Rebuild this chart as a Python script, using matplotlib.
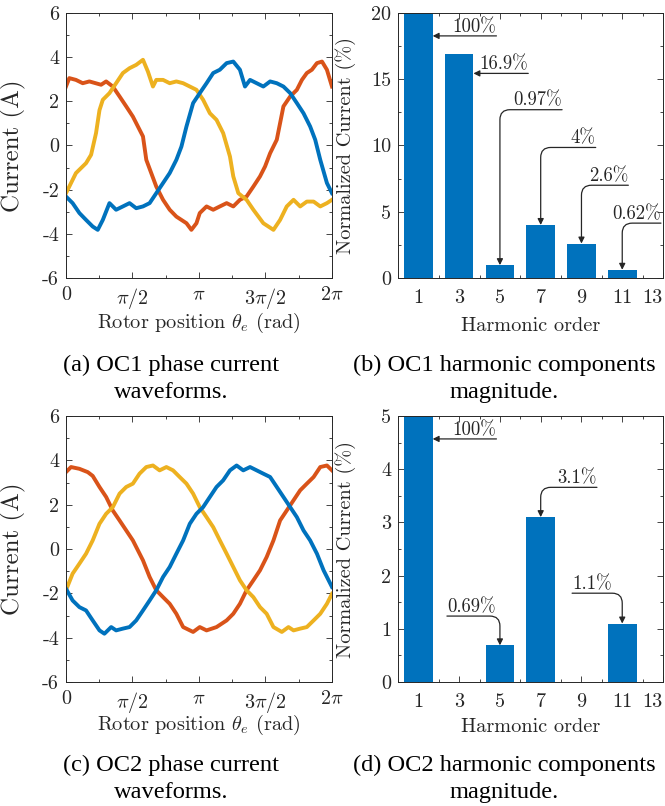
import numpy as np
import matplotlib
matplotlib.use('Agg')
import matplotlib.pyplot as plt
from matplotlib.ticker import MultipleLocator

plt.rcParams['font.family'] = 'cmr10'
plt.rcParams['mathtext.fontset'] = 'cm'
plt.rcParams['axes.formatter.use_mathtext'] = True

# ---- OC1 phase currents (x in units of pi) ----
oc1_red_x = [0.0, 0.025, 0.075, 0.126, 0.176, 0.264, 0.302, 0.352, 0.403, 0.453, 0.503, 0.541, 0.579, 0.604,
             0.679, 0.73, 0.78, 0.83, 0.906, 0.943, 0.981, 1.006, 1.057, 1.107, 1.157, 1.208, 1.258, 1.308,
             1.358, 1.409, 1.459, 1.497, 1.535, 1.585, 1.635, 1.686, 1.736, 1.774, 1.811, 1.849, 1.887,
             1.925, 1.962, 2.0]
oc1_red_y = [2.67, 3.05, 2.97, 2.82, 2.9, 2.75, 2.9, 2.67, 2.22, 1.77, 1.31, 0.86, 0.41, -0.65,
             -1.86, -2.46, -2.91, -3.22, -3.52, -3.82, -3.52, -3.06, -2.76, -2.91, -2.76, -2.61, -2.76, -2.46,
             -2.31, -1.86, -1.4, -0.95, -0.35, 0.26, 1.77, 2.22, 2.52, 2.97, 3.28, 3.43, 3.73,
             3.8, 3.43, 2.67]

oc1_yel_x = [0.0, 0.025, 0.075, 0.151, 0.189, 0.226, 0.252, 0.277, 0.327, 0.377, 0.428, 0.478, 0.528, 0.579,
             0.616, 0.654, 0.679, 0.73, 0.78, 0.83, 0.881, 0.931, 0.981, 1.031, 1.082, 1.132, 1.182, 1.233,
             1.258, 1.296, 1.358, 1.409, 1.484, 1.560, 1.610, 1.660, 1.711, 1.761, 1.811, 1.862, 1.912,
             1.962, 2.0]
oc1_yel_y = [-2.16, -1.86, -1.25, -0.8, -0.42, 0.56, 1.6, 2.07, 2.37, 2.82, 3.28, 3.5, 3.65, 3.88,
             3.35, 2.67, 2.97, 2.97, 2.82, 2.9, 2.82, 2.67, 2.52, 2.07, 1.46, 1.16, 0.56, -0.5,
             -1.4, -2.16, -2.46, -2.91, -3.52, -3.82, -3.37, -2.76, -2.46, -2.76, -2.54, -2.54, -2.76,
             -2.61, -2.46]

oc1_blu_x = [0.0, 0.05, 0.101, 0.151, 0.201, 0.239, 0.277, 0.327, 0.377, 0.428, 0.478, 0.528, 0.579, 0.629,
             0.679, 0.73, 0.78, 0.83, 0.868, 0.906, 0.956, 1.006, 1.057, 1.107, 1.157, 1.208, 1.258, 1.308,
             1.346, 1.384, 1.434, 1.484, 1.535, 1.585, 1.635, 1.686, 1.736, 1.786, 1.836, 1.874, 1.912,
             1.962, 2.0]
oc1_blu_y = [-2.31, -2.61, -3.06, -3.37, -3.67, -3.82, -3.37, -2.61, -2.91, -2.76, -2.61, -2.84, -2.76, -2.61,
             -2.16, -1.7, -1.25, -0.65, -0.05, 0.86, 1.92, 2.37, 2.82, 3.28, 3.43, 3.73, 3.8, 3.43,
             2.67, 2.97, 2.82, 2.67, 2.9, 2.82, 2.67, 2.37, 1.92, 1.46, 0.86, 0.26, -0.65,
             -1.7, -2.16]

# ---- OC2 phase currents ----
oc2_red_x = [0.0, 0.038, 0.101, 0.164, 0.201, 0.252, 0.302, 0.352, 0.403, 0.453, 0.503, 0.541, 0.579, 0.629,
             0.679, 0.73, 0.78, 0.83, 0.881, 0.956, 1.006, 1.057, 1.132, 1.208, 1.258, 1.308, 1.358, 1.409,
             1.459, 1.509, 1.560, 1.610, 1.660, 1.711, 1.761, 1.811, 1.862, 1.912, 1.962, 2.0]
oc2_red_y = [3.47, 3.7, 3.62, 3.47, 3.3, 2.8, 2.35, 1.74, 1.29, 0.84, 0.39, -0.06, -0.51, -1.26,
             -1.86, -2.17, -2.47, -2.92, -3.52, -3.74, -3.52, -3.67, -3.52, -3.22, -2.92, -2.47, -1.86, -1.41,
             -0.96, -0.36, 0.39, 1.29, 1.74, 2.2, 2.65, 2.95, 3.25, 3.7, 3.77, 3.55]

oc2_yel_x = [0.0, 0.05, 0.101, 0.151, 0.201, 0.252, 0.302, 0.352, 0.403, 0.453, 0.503, 0.553, 0.604, 0.654,
             0.704, 0.755, 0.805, 0.855, 0.906, 0.956, 1.006, 1.057, 1.107, 1.157, 1.208, 1.258, 1.308, 1.358,
             1.409, 1.459, 1.509, 1.560, 1.623, 1.673, 1.711, 1.761, 1.811, 1.862, 1.912, 1.962, 2.0]
oc2_yel_y = [-1.86, -1.11, -0.66, -0.21, 0.39, 1.14, 1.59, 1.89, 2.5, 2.8, 2.95, 3.4, 3.7, 3.77,
             3.55, 3.7, 3.55, 3.25, 2.95, 2.5, 1.89, 1.44, 0.99, 0.39, -0.21, -0.81, -1.41, -1.86,
             -2.17, -2.62, -2.92, -3.52, -3.74, -3.52, -3.67, -3.59, -3.52, -3.22, -2.92, -2.47, -2.02]

oc2_blu_x = [0.0, 0.05, 0.101, 0.151, 0.201, 0.252, 0.289, 0.340, 0.377, 0.428, 0.478, 0.528, 0.579, 0.629,
             0.679, 0.73, 0.78, 0.83, 0.881, 0.931, 0.981, 1.031, 1.082, 1.132, 1.182, 1.233, 1.283, 1.333,
             1.384, 1.434, 1.484, 1.535, 1.585, 1.635, 1.686, 1.736, 1.786, 1.836, 1.887, 1.937, 2.0]
oc2_blu_y = [-1.79, -2.32, -2.62, -2.77, -3.22, -3.67, -3.82, -3.52, -3.67, -3.59, -3.52, -3.22, -2.77, -2.32,
             -1.86, -1.26, -0.81, -0.21, 0.39, 1.14, 1.59, 1.89, 2.35, 2.8, 3.1, 3.55, 3.77, 3.55,
             3.7, 3.55, 3.4, 3.25, 2.8, 2.35, 1.89, 1.44, 0.84, 0.39, -0.21, -0.96, -1.71]

# ---- harmonic spectra ----
orders = [1, 3, 5, 7, 9, 11, 13]
oc1_harm = [100, 16.9, 0.97, 4.0, 2.6, 0.62, 0.0]
oc2_harm = [100, 0.0, 0.69, 3.1, 0.0, 1.1, 0.0]

pi_ticks = [0, np.pi / 2, np.pi, 3 * np.pi / 2, 2 * np.pi]
pi_labels = ['0', r'$\pi/2$', r'$\pi$', r'$3\pi/2$', r'$2\pi$']

BLUE = '#0072BD'
RED = '#D95319'
YEL = '#EDB120'
AX = '#262626'
TICK_FS = 14.5
LAB_FS = 14.6
NOTE_FS = 13.5

fig = plt.figure(figsize=(6.65, 8.06), dpi=100)


def style(ax, xpad):
    ax.tick_params(which='both', direction='in', top=True, right=True, colors=AX, labelsize=TICK_FS)
    ax.tick_params(which='major', length=4, width=0.6)
    ax.tick_params(which='minor', length=2.5, width=0.6)
    ax.tick_params(axis='x', pad=xpad)
    ax.tick_params(axis='y', pad=5)
    for s in ax.spines.values():
        s.set_color(AX)
        s.set_linewidth(0.7)


def wave_axes(rect, red, yel, blu, xlab_y):
    ax = fig.add_axes(rect)
    for (x, y), c in zip([red, yel, blu], [RED, YEL, BLUE]):
        ax.plot(np.array(x) * np.pi, y, color=c, lw=2.8, solid_joinstyle='round')
    ax.set_xlim(0, 2 * np.pi)
    ax.set_ylim(-6, 6)
    ax.set_xticks(pi_ticks)
    ax.set_xticklabels(pi_labels)
    ax.xaxis.set_minor_locator(MultipleLocator(np.pi / 4))
    ax.set_yticks(range(-6, 7, 2))
    ax.set_yticklabels([str(v) for v in range(-6, 7, 2)])
    ax.yaxis.set_minor_locator(MultipleLocator(1))
    style(ax, 6)
    ax.set_ylabel('Current (A)', fontsize=18, color=AX)
    ax.yaxis.set_label_coords(-0.15, 0.5)
    ax.set_xlabel(r'Rotor position $\theta_e$ (rad)', fontsize=LAB_FS, color=AX)
    ax.xaxis.set_label_coords(0.5, xlab_y)
    return ax


def harm_axes(rect, vals, ymax, yticks, yminor, notes, xlab_y):
    ax = fig.add_axes(rect)
    ax.bar(orders, vals, width=1.4, color=BLUE, zorder=2)
    ax.set_xlim(0, 13)
    ax.set_ylim(0, ymax)
    ax.set_xticks(orders)
    labs = ax.set_xticklabels([str(o) for o in orders])
    labs[-1].set_horizontalalignment('right')
    ax.xaxis.set_minor_locator(MultipleLocator(1))
    ax.set_yticks(yticks)
    ax.set_yticklabels([str(v) for v in yticks])
    ax.yaxis.set_minor_locator(MultipleLocator(yminor))
    style(ax, 8)
    ax.set_ylabel('Normalized Current (%)', fontsize=LAB_FS, color=AX)
    ax.yaxis.set_label_coords(-0.158, 0.5)
    ax.set_xlabel('Harmonic order', fontsize=LAB_FS, color=AX)
    ax.xaxis.set_label_coords(0.5, xlab_y)
    for txt, tip, start, side in notes:
        if tip[1] == start[1]:
            cs = 'arc3,rad=0'
        else:
            cs = 'angle,angleA=0,angleB=90,rad=10'
        ax.annotate('', xy=tip, xytext=start,
                    arrowprops=dict(arrowstyle='-|>', connectionstyle=cs, color=AX, lw=0.9,
                                    mutation_scale=9, shrinkA=0, shrinkB=0), zorder=5)
        ax.text(start[0], start[1], txt, ha=side, va='bottom', fontsize=NOTE_FS, color=AX)
    return ax


notes1 = [('100%', (1.7, 18.27), (4.83, 18.27), 'right'),
          ('16.9%', (3.7, 15.44), (6.39, 15.44), 'right'),
          ('0.97%', (5.0, 0.97), (8.05, 12.7), 'right'),
          ('4%', (7.0, 4.0), (9.7, 9.85), 'right'),
          ('2.6%', (9.0, 2.6), (11.3, 7.0), 'right'),
          ('0.62%', (11.0, 0.62), (12.9, 4.14), 'right')]
notes2 = [('100%', (1.7, 4.57), (4.83, 4.57), 'right'),
          ('3.1%', (7.0, 3.1), (9.76, 3.66), 'right'),
          ('0.69%', (5.0, 0.69), (2.4, 1.24), 'left'),
          ('1.1%', (11.0, 1.1), (8.54, 1.67), 'left')]

wave_axes([0.0992, 0.6551, 0.4, 0.3288], (oc1_red_x, oc1_red_y), (oc1_yel_x, oc1_yel_y),
          (oc1_blu_x, oc1_blu_y), -0.125)
harm_axes([0.5985, 0.6551, 0.3985, 0.3288], oc1_harm, 20, [0, 5, 10, 15, 20], 2.5, notes1, -0.148)
wave_axes([0.0992, 0.1538, 0.4, 0.330], (oc2_red_x, oc2_red_y), (oc2_yel_x, oc2_yel_y),
          (oc2_blu_x, oc2_blu_y), -0.117)
harm_axes([0.5985, 0.1538, 0.3985, 0.330], oc2_harm, 5, [0, 1, 2, 3, 4, 5], 0.5, notes2, -0.135)

cap = dict(fontsize=17.6, family='Liberation Serif', ha='center', va='baseline', color='black')
fig.text(171 / 665, 1 - 371 / 806, '(a) OC1 phase current', **cap)
fig.text(171 / 665, 1 - 398 / 806, 'waveforms.', **cap)
fig.text(504 / 665, 1 - 371 / 806, '(b) OC1 harmonic components', **cap)
fig.text(504 / 665, 1 - 398 / 806, 'magnitude.', **cap)
fig.text(171 / 665, 1 - 771 / 806, '(c) OC2 phase current', **cap)
fig.text(171 / 665, 1 - 798 / 806, 'waveforms.', **cap)
fig.text(504 / 665, 1 - 771 / 806, '(d) OC2 harmonic components', **cap)
fig.text(504 / 665, 1 - 798 / 806, 'magnitude.', **cap)

fig.savefig('out.png', dpi=100)
